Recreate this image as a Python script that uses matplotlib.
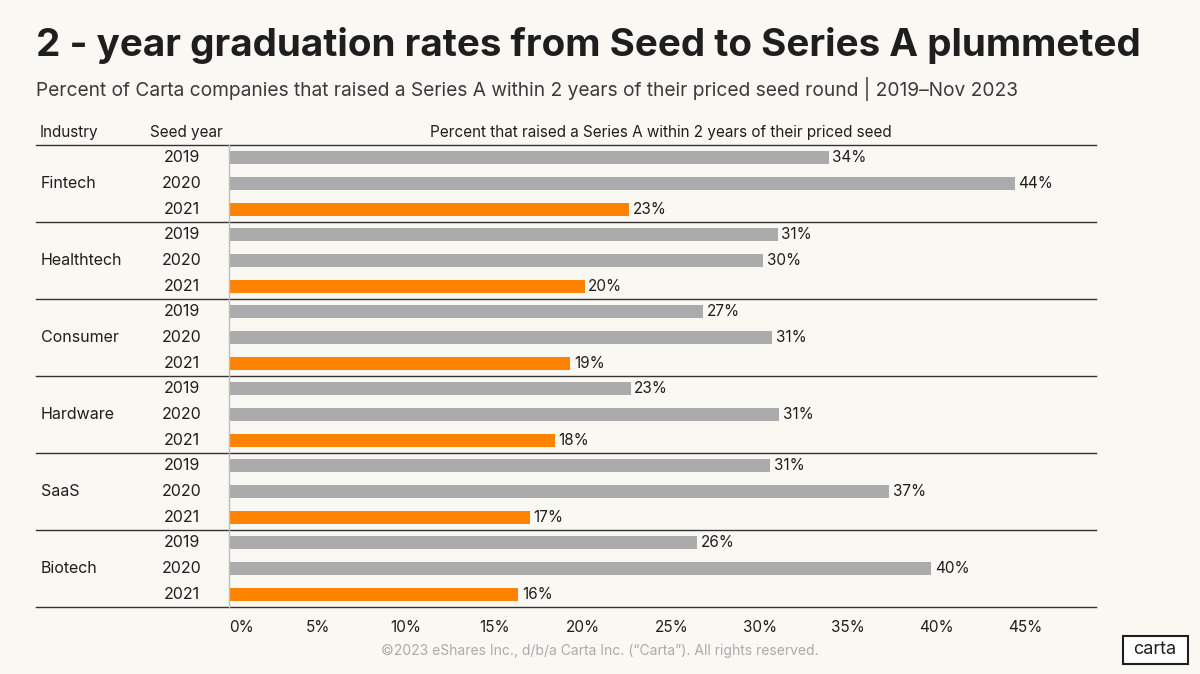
'''2-year graduation rates, Seed to Series A.'''
import numpy as np
import matplotlib.pyplot as plt
from matplotlib.patches import FancyBboxPatch

plt.rcParams['font.family'] = ['Inter', 'DejaVu Sans']

industries = ['Fintech', 'Healthtech', 'Consumer', 'Hardware', 'SaaS', 'Biotech']
years = ['2019', '2020', '2021']
# percent (labels are the rounded values)
rate_2019 = [33.9, 31.0, 26.8, 22.7, 30.6, 26.45]
rate_2020 = [44.4, 30.2, 30.7, 31.1, 37.3, 39.7]
rate_2021 = [22.6, 20.1, 19.3, 18.4, 17.0, 16.35]
ticks = [0, 5, 10, 15, 20, 25, 30, 35, 40, 45]

BG = '#FAF8F3'
GRAY = '#ABABAB'
ORANGE = '#FF8200'
DARK = '#1E1E1E'

fig = plt.figure(figsize=(12, 6.74), dpi=100, facecolor=BG)
ax = fig.add_axes([229 / 1200, 1 - 607 / 674, 867 / 1200, 462 / 674])
ax.set_facecolor(BG)

values = []
colors = []
for i in range(len(industries)):
    values += [rate_2019[i], rate_2020[i], rate_2021[i]]
    colors += [GRAY, GRAY, ORANGE]
pos = np.arange(len(values))

ax.barh(pos, values, height=0.5, color=colors)
for p, v in zip(pos, values):
    ax.text(v + 0.2, p, f'{v:.0f}%', va='center', ha='left', fontsize=11, color=DARK)

ax.set_ylim(len(values) - 0.5, -0.5)
ax.set_xlim(0, 49)
ax.set_yticks([])
ax.set_xticks(ticks)
ax.set_xticklabels([f'{t}%' for t in ticks], fontsize=11, color=DARK)
ax.get_xticklabels()[0].set_ha('left')
ax.tick_params(axis='x', length=0, pad=9)
for s in ['top', 'right', 'bottom']:
    ax.spines[s].set_visible(False)
ax.spines['left'].set_color('#BDBDBD')
ax.spines['left'].set_linewidth(1)

# group separators across the table
x0 = (36 - 229) / 867
for k in range(len(industries) + 1):
    ax.axhline(3 * k - 0.5, xmin=x0, xmax=1, color='#333333', lw=1, clip_on=False)

# year and industry labels
for i, name in enumerate(industries):
    ax.text(x0 + 5 / 867, 3 * i + 1, name, transform=ax.get_yaxis_transform(),
            ha='left', va='center', fontsize=11.5, color=DARK)
    for j, yr in enumerate(years):
        ax.text((182 - 229) / 867, 3 * i + j, yr, transform=ax.get_yaxis_transform(),
                ha='center', va='center', fontsize=11.5, color=DARK)

# column headers
fig.text(40 / 1200, 1 - 133 / 674, 'Industry', ha='left', va='center', fontsize=11, color=DARK)
fig.text(150 / 1200, 1 - 133 / 674, 'Seed year', ha='left', va='center', fontsize=11, color=DARK)
fig.text(661 / 1200, 1 - 133 / 674, 'Percent that raised a Series A within 2 years of their priced seed',
         ha='center', va='center', fontsize=11, color=DARK)

fig.text(36 / 1200, 1 - 46 / 674, '2 - year graduation rates from Seed to Series A plummeted',
         ha='left', va='center', fontsize=27.8, fontweight='bold', color=DARK)
fig.text(36 / 1200, 1 - 89 / 674,
         'Percent of Carta companies that raised a Series A within 2 years of their priced seed round | 2019\u2013Nov 2023',
         ha='left', va='center', fontsize=13.8, color='#3A3A3A')

fig.text(600 / 1200, 1 - 651 / 674,
         '\u00a92023 eShares Inc., d/b/a Carta Inc. (\u201cCarta\u201d). All rights reserved.',
         ha='center', va='center', fontsize=10, color='#ABABAB')

# carta logo box
box = FancyBboxPatch((1123 / 1200, 1 - 664 / 674), 65 / 1200, 28 / 674,
                     boxstyle='square,pad=0', transform=fig.transFigure,
                     facecolor='white', edgecolor=DARK, lw=1.5)
fig.patches.append(box)
fig.text(1155 / 1200, 1 - 650 / 674, 'carta', ha='center', va='center',
         fontsize=13, color=DARK)

fig.savefig('out.png', dpi=100, facecolor=BG)
